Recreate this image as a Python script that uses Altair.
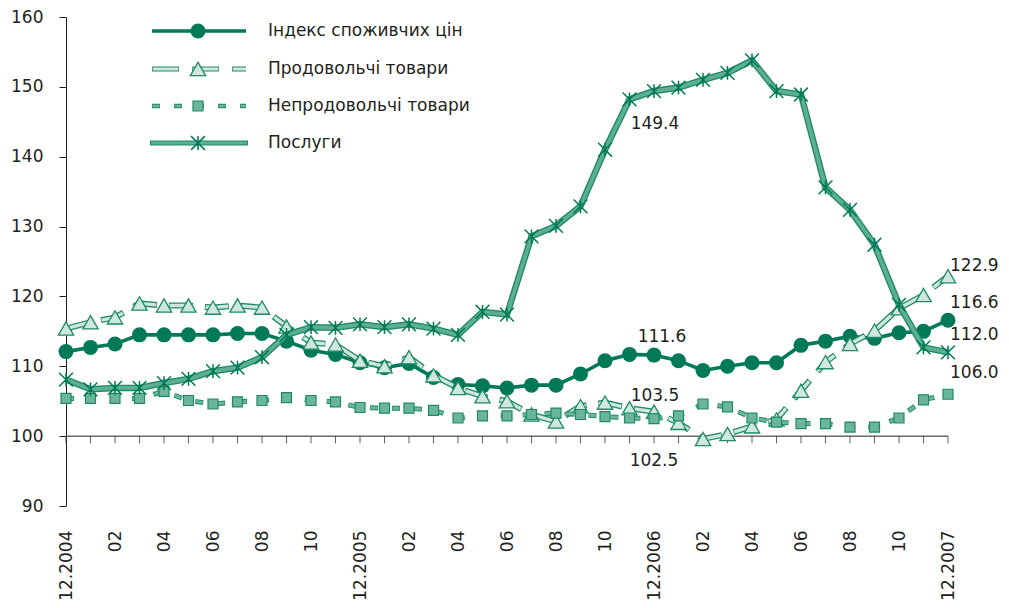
import json
import altair as alt
import pandas as pd

# ---------------- data ----------------
months = list(range(37))  # 0 = 12.2004 ... 36 = 12.2007
tick_labels = ["12.2004", "02", "04", "06", "08", "10",
               "12.2005", "02", "04", "06", "08", "10",
               "12.2006", "02", "04", "06", "08", "10", "12.2007"]

series_names = ["Індекс споживчих цін", "Продовольчі товари",
                "Непродовольчі товари", "Послуги"]

cpi = [112.1, 112.7, 113.2, 114.5, 114.5, 114.5, 114.5, 114.7, 114.7, 113.6,
       112.3, 111.7, 110.5, 109.8, 110.4, 108.4, 107.4, 107.2, 106.9, 107.3,
       107.3, 108.9, 110.8, 111.7, 111.6, 110.8, 109.4, 110.0, 110.5, 110.5,
       113.0, 113.6, 114.3, 114.0, 114.8, 115.0, 116.6]

food = [115.4, 116.3, 117.0, 119.0, 118.7, 118.7, 118.4, 118.7, 118.4, 115.7,
        113.4, 113.1, 110.8, 110.0, 111.3, 108.7, 106.9, 105.7, 105.0, 103.1,
        102.1, 104.3, 104.8, 104.0, 103.5, 101.9, 99.6, 100.3, 101.4, 102.4,
        106.5, 110.6, 113.2, 115.1, 118.3, 120.2, 122.9]

nonfood = [105.4, 105.4, 105.4, 105.4, 106.4, 105.1, 104.6, 104.9, 105.1, 105.5,
           105.1, 104.9, 104.1, 104.0, 104.0, 103.7, 102.6, 102.9, 102.9, 103.1,
           103.3, 103.1, 102.8, 102.6, 102.5, 102.9, 104.6, 104.2, 102.6, 102.0,
           101.8, 101.8, 101.3, 101.3, 102.6, 105.2, 106.0]

services = [108.1, 106.7, 106.9, 106.9, 107.6, 108.2, 109.3, 109.8, 111.3, 114.5,
            115.6, 115.5, 116.0, 115.6, 116.0, 115.4, 114.5, 117.8, 117.4, 128.6,
            130.1, 132.9, 141.0, 148.2, 149.4, 149.9, 151.0, 152.0, 153.8, 149.4,
            148.9, 135.6, 132.4, 127.4, 118.8, 112.7, 112.0]

values_by_series = [cpi, food, nonfood, services]

rows = []
for name, vals in zip(series_names, values_by_series):
    for m, v in zip(months, vals):
        rows.append({"series": name, "idx": m, "value": v})
df = pd.DataFrame(rows)

# ---------------- styles ----------------
FONT = "DejaVu Sans"
FS = 17
TXT = "#231F20"
DARK = "#007A56"
EDGE = "#1E8A66"
FOOD_FILL = "#CFE7DF"
NONFOOD_FILL = "#6AB59C"
SERV_FILL = "#5DAF92"
STAR = "M0,-1L0,1M-1,-1L1,1M-1,1L1,-1"

label_expr = json.dumps(tick_labels) + "[datum.value / 2]"

X = alt.X("idx:Q",
          scale=alt.Scale(domain=[0, 36], nice=False, zero=False),
          axis=alt.Axis(values=list(range(0, 37, 2)), labelExpr=label_expr,
                        domain=False, ticks=False, grid=False, labelAngle=-90,
                        labelAlign="right", labelBaseline="middle",
                        labelPadding=24, labelFont=FONT, labelFontSize=FS,
                        labelColor=TXT, title=None, labelOverlap=False))
Y = alt.Y("value:Q",
          scale=alt.Scale(domain=[90, 160], nice=False, zero=False),
          axis=alt.Axis(values=list(range(90, 161, 10)), tickSize=7,
                        labelPadding=16, grid=False, domainColor=TXT,
                        tickColor=TXT, labelFont=FONT, labelFontSize=FS,
                        labelColor=TXT, title=None))

base = alt.Chart(df)


def sel(name):
    return base.transform_filter(alt.datum.series == name)


layers = []

# x axis line at 100 with monthly ticks
axis_df = pd.DataFrame({"idx": months})
layers.append(alt.Chart(pd.DataFrame({"a": [0]})).mark_rule(color=TXT, strokeWidth=1)
              .encode(x=alt.datum(0, type="quantitative"),
                      x2=alt.datum(36),
                      y=alt.datum(100, type="quantitative")))
layers.append(alt.Chart(axis_df).mark_tick(orient="vertical", size=7, thickness=1,
                                           color=TXT, yOffset=3.5)
              .encode(x=X, y=alt.datum(100, type="quantitative")))

# CPI
s = sel(series_names[0])
layers.append(s.mark_line(color=DARK, strokeWidth=3.6).encode(x=X, y=Y))
layers.append(s.mark_point(shape="circle", filled=True, color=DARK, size=225, opacity=1)
              .encode(x=X, y=Y))

# Food
s = sel(series_names[1])
layers.append(s.mark_line(color=EDGE, strokeWidth=6, strokeDash=[24, 12]).encode(x=X, y=Y))
layers.append(s.mark_line(color=FOOD_FILL, strokeWidth=3.4, strokeDash=[22.6, 13.4],
                          strokeDashOffset=-0.7).encode(x=X, y=Y))
layers.append(s.mark_point(shape="triangle-up", filled=True, fill=FOOD_FILL, stroke=EDGE,
                           strokeWidth=1.3, size=235, opacity=1).encode(x=X, y=Y))

# Non-food
s = sel(series_names[2])
layers.append(s.mark_line(color=EDGE, strokeWidth=5, strokeDash=[8, 14]).encode(x=X, y=Y))
layers.append(s.mark_line(color=NONFOOD_FILL, strokeWidth=3, strokeDash=[6.8, 15.2],
                          strokeDashOffset=-0.6).encode(x=X, y=Y))
layers.append(s.mark_point(shape="square", filled=True, fill=NONFOOD_FILL, stroke=EDGE,
                           strokeWidth=1.2, size=100, opacity=1).encode(x=X, y=Y))

# Services
s = sel(series_names[3])
layers.append(s.mark_line(color=EDGE, strokeWidth=6.5).encode(x=X, y=Y))
layers.append(s.mark_line(color=SERV_FILL, strokeWidth=3.8).encode(x=X, y=Y))
layers.append(s.mark_point(shape=STAR, filled=False, stroke=DARK, strokeWidth=1.5,
                           size=190, opacity=1).encode(x=X, y=Y))

# value annotations
annots = [
    (series_names[0], 36, "left", 2, -17),
    (series_names[1], 36, "left", 2, -10),
    (series_names[3], 36, "left", 2, -17),
    (series_names[2], 36, "left", 2, -21),
    (series_names[0], 24, "center", 8, -18),
    (series_names[1], 24, "center", 1, -16),
    (series_names[2], 24, "center", 0, 42),
    (series_names[3], 24, "center", 1, 33),
]
for name, i, al, dx, dy in annots:
    layers.append(base.transform_filter((alt.datum.series == name) & (alt.datum.idx == i))
                  .mark_text(align=al, baseline="middle", dx=dx, dy=dy, font=FONT,
                             fontSize=FS, color=TXT)
                  .encode(x=X, y=Y, text=alt.Text("value:Q", format=".1f")))

# manual legend (pixel positions inside the plot area)
leg_y = [14, 52, 89, 126]
LX1, LX2, LM, LT = 86, 180, 132, 202
for k, name in enumerate(series_names):
    one = alt.Chart(pd.DataFrame({"name": [name]}))
    yy = alt.value(leg_y[k])
    if k == 0:
        layers.append(one.mark_rule(color=DARK, strokeWidth=3.6)
                      .encode(x=alt.value(LX1), x2=alt.value(LX2), y=yy))
        layers.append(one.mark_point(shape="circle", filled=True, color=DARK, size=225, opacity=1)
                      .encode(x=alt.value(LM), y=yy))
    elif k == 1:
        layers.append(one.mark_rule(color=EDGE, strokeWidth=5, strokeDash=[27, 13])
                      .encode(x=alt.value(LX1), x2=alt.value(LX2), y=yy))
        layers.append(one.mark_rule(color=FOOD_FILL, strokeWidth=2.8, strokeDash=[25.6, 14.4],
                                    strokeDashOffset=-0.7)
                      .encode(x=alt.value(LX1), x2=alt.value(LX2), y=yy))
        layers.append(one.mark_point(shape="triangle-up", filled=True, fill=FOOD_FILL, stroke=EDGE,
                                     strokeWidth=1.3, size=235, opacity=1)
                      .encode(x=alt.value(LM), y=yy))
    elif k == 2:
        layers.append(one.mark_rule(color=EDGE, strokeWidth=4.5, strokeDash=[8, 14])
                      .encode(x=alt.value(LX1), x2=alt.value(LX2), y=yy))
        layers.append(one.mark_rule(color=NONFOOD_FILL, strokeWidth=2.5, strokeDash=[6.8, 15.2],
                                    strokeDashOffset=-0.6)
                      .encode(x=alt.value(LX1), x2=alt.value(LX2), y=yy))
        layers.append(one.mark_point(shape="square", filled=True, fill=NONFOOD_FILL, stroke=EDGE,
                                     strokeWidth=1.2, size=100, opacity=1)
                      .encode(x=alt.value(LM), y=yy))
    else:
        layers.append(one.mark_rule(color=EDGE, strokeWidth=5)
                      .encode(x=alt.value(LX1 - 2), x2=alt.value(LX2 + 2), y=yy))
        layers.append(one.mark_rule(color=SERV_FILL, strokeWidth=2.8)
                      .encode(x=alt.value(LX1 - 1), x2=alt.value(LX2 + 1), y=yy))
        layers.append(one.mark_point(shape=STAR, filled=False, stroke=DARK, strokeWidth=1.5,
                                     size=190, opacity=1)
                      .encode(x=alt.value(LM), y=yy))
    layers.append(one.mark_text(align="left", baseline="middle", font=FONT, fontSize=FS,
                                color=TXT)
                  .encode(x=alt.value(LT), y=yy, text="name:N"))

chart = alt.layer(*layers).properties(
    width=882, height=489,
    autosize=alt.AutoSizeParams(type="none"),
    padding={"left": 58, "top": 9, "right": 53, "bottom": 94},
).configure_view(stroke=None)

chart.save("out.html", embed_options={"renderer": "svg", "actions": False})
